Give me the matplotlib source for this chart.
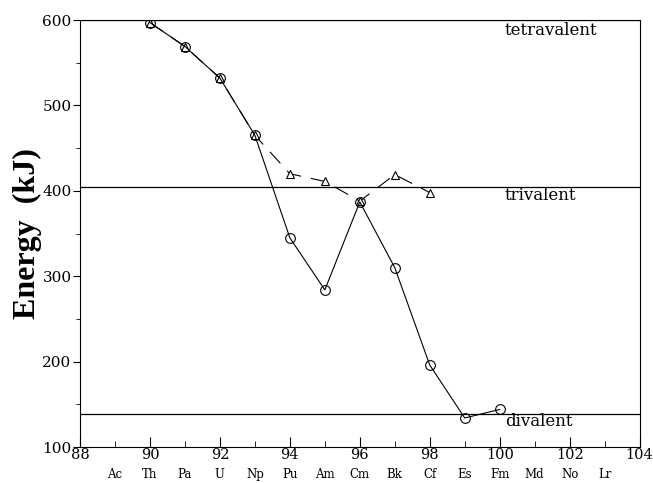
import matplotlib.pyplot as plt
from matplotlib.ticker import MultipleLocator

# atomic numbers and energies
z_circ = [90, 91, 92, 93, 94, 95, 96, 97, 98, 99, 100]
e_circ = [597, 569, 532, 465, 345, 284, 387, 310, 196, 134, 144]
z_tri = [90, 91, 92, 93, 94, 95, 96, 97, 98]
e_tri = [597, 569, 532, 465, 420, 411, 388, 419, 398]

levels = [600, 404, 139]
level_names = ['tetravalent', 'trivalent', 'divalent']

elem_z = list(range(89, 104))
elem_names = ['Ac', 'Th', 'Pa', 'U', 'Np', 'Pu', 'Am', 'Cm', 'Bk', 'Cf',
              'Es', 'Fm', 'Md', 'No', 'Lr']

plt.rcParams['font.family'] = ['DejaVu Serif', 'Liberation Serif']

fig = plt.figure(figsize=(6.53, 4.83), dpi=100)
ax = fig.add_axes([0.1225, 0.0745, 0.857, 0.884])

for lv in levels:
  ax.axhline(lv, color='black', lw=0.9)

ax.plot(z_tri, e_tri, color='black', lw=0.8, ls=(0, (14, 9)),
        marker='^', ms=6, mfc='white', mec='black', mew=0.8)
ax.plot(z_circ, e_circ, color='black', lw=0.8,
        marker='o', ms=7, mfc='none', mec='black', mew=0.8)

offsets = [-12, -9, -9]
for lv, name, off in zip(levels, level_names, offsets):
  ax.text(100.15, lv + off, name, fontsize=12, ha='left', va='center')

ax.set_xlim(88, 104)
ax.set_ylim(100, 600)
ax.xaxis.set_major_locator(MultipleLocator(2))
ax.xaxis.set_minor_locator(MultipleLocator(1))
ax.yaxis.set_major_locator(MultipleLocator(100))
ax.yaxis.set_minor_locator(MultipleLocator(50))
ax.tick_params(axis='x', which='major', direction='in', length=7, labelsize=10.5, pad=1)
ax.tick_params(axis='x', which='minor', direction='in', length=4)
ax.tick_params(axis='y', which='major', direction='out', length=5, labelsize=11, pad=1)
ax.tick_params(axis='y', which='minor', direction='out', length=3)

for z, nm in zip(elem_z, elem_names):
  ax.text(z, 68, nm, fontsize=8.5, ha='center', va='center')

ax.set_ylabel('Energy  (kJ)', fontsize=23, fontweight='bold',
              family=['Liberation Serif', 'DejaVu Serif'])
ax.yaxis.set_label_coords(-0.068, 0.5)

fig.savefig('out.png', dpi=100)
